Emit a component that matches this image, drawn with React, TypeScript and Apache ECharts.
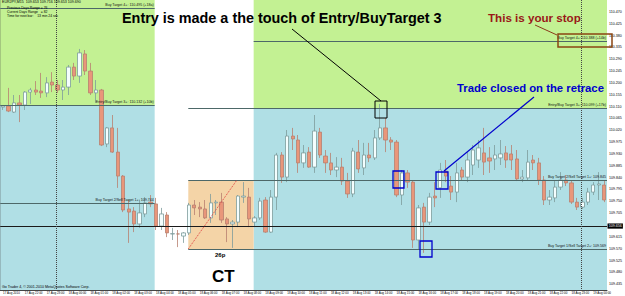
import React, { useEffect, useRef } from "react";
import * as echarts from "echarts";

const FONT = "Liberation Sans, Arial, sans-serif";

// hourly tick labels shown under the chart (one per 4 M15 bars)
const tickLabels = [
  "17 Aug 2010", "17 Aug 22:00", "17 Aug 23:00",
  "18 Aug 00:00", "18 Aug 01:00", "18 Aug 02:00", "18 Aug 03:00", "18 Aug 04:00", "18 Aug 05:00",
  "18 Aug 06:00", "18 Aug 07:00", "18 Aug 08:00", "18 Aug 09:00", "18 Aug 10:00", "18 Aug 11:00",
  "18 Aug 12:00", "18 Aug 13:00", "18 Aug 14:00", "18 Aug 15:00", "18 Aug 16:00", "18 Aug 17:00",
  "18 Aug 18:00", "18 Aug 19:00", "18 Aug 20:00", "18 Aug 21:00", "18 Aug 22:00", "18 Aug 23:00",
  "19 Aug 00:00",
];

// price scale labels (right axis)
const priceTicks = [
  110.47, 110.425, 110.38, 110.335, 110.29, 110.245, 110.2, 110.155, 110.11, 110.065, 110.02,
  109.975, 109.93, 109.885, 109.84, 109.795, 109.75, 109.705, 109.615, 109.57, 109.525, 109.48, 109.435,
];

// EURJPY M15 candles
const open = [
  110.108, 110.112, 110.089, 110.124, 110.116, 110.165, 110.173, 110.169, 110.162, 110.203,
  110.192, 110.173, 110.184, 110.26, 110.226, 110.31, 110.245, 110.162, 110.173, 109.968,
  110.029, 109.937, 109.846, 109.721, 109.713, 109.664, 109.702, 109.747, 109.74, 109.656,
  109.698, 109.626, 109.626, 109.618, 109.63, 109.736, 109.728, 109.721, 109.687, 109.744,
  109.747, 109.683, 109.664, 109.671, 109.766, 109.766, 109.671, 109.687, 109.755, 109.633,
  109.766, 109.926, 109.842, 109.998, 109.983, 109.896, 109.937, 109.88, 110.013, 109.922,
  109.896, 109.869, 109.88, 109.827, 109.778, 109.937, 109.877, 109.926, 109.915, 109.991,
  110.029, 109.983, 109.975, 109.774, 109.858, 109.823, 109.603, 109.728, 109.671, 109.77,
  109.801, 109.865, 109.808, 109.785, 109.869, 109.842, 109.888, 109.907, 109.934, 109.915,
  109.911, 109.915, 109.934, 109.93, 109.911, 109.835, 109.839, 109.907, 109.896, 109.831,
  109.755, 109.763, 109.804, 109.831, 109.82, 109.747, 109.728, 109.747, 109.785, 109.812,
  109.812,
];
const close = [
  110.112, 110.093, 110.124, 110.116, 110.165, 110.173, 110.165, 110.162, 110.2, 110.192,
  110.173, 110.184, 110.26, 110.226, 110.314, 110.245, 110.162, 110.173, 109.964, 110.029,
  109.937, 109.846, 109.717, 109.709, 109.664, 109.706, 109.744, 109.74, 109.656, 109.702,
  109.63, 109.627, 109.626, 109.63, 109.736, 109.725, 109.721, 109.687, 109.744, 109.747,
  109.679, 109.664, 109.671, 109.77, 109.77, 109.683, 109.687, 109.751, 109.633, 109.766,
  109.926, 109.842, 109.998, 109.987, 109.896, 109.934, 109.88, 110.017, 109.926, 109.896,
  109.869, 109.88, 109.827, 109.778, 109.941, 109.873, 109.926, 109.915, 109.991, 110.029,
  109.983, 109.975, 109.774, 109.858, 109.823, 109.603, 109.725, 109.671, 109.766, 109.763,
  109.869, 109.846, 109.785, 109.858, 109.842, 109.907, 109.945, 109.953, 109.899, 109.903,
  109.926, 109.93, 109.907, 109.907, 109.835, 109.842, 109.899, 109.896, 109.831, 109.755,
  109.766, 109.804, 109.831, 109.82, 109.747, 109.728, 109.747, 109.785, 109.812, 109.816,
  109.755,
];
const low = [
  110.097, 110.089, 110.086, 110.051, 110.097, 110.12, 110.154, 110.143, 110.146, 110.165,
  110.162, 110.135, 110.154, 110.211, 110.2, 110.23, 110.154, 110.124, 109.96, 109.956,
  109.934, 109.801, 109.709, 109.592, 109.633, 109.649, 109.69, 109.728, 109.641, 109.641,
  109.614, 109.603, 109.576, 109.592, 109.622, 109.698, 109.69, 109.683, 109.668, 109.698,
  109.668, 109.595, 109.573, 109.652, 109.744, 109.652, 109.652, 109.679, 109.63, 109.63,
  109.717, 109.82, 109.823, 109.945, 109.858, 109.877, 109.877, 109.858, 109.915, 109.858,
  109.85, 109.842, 109.812, 109.763, 109.766, 109.858, 109.85, 109.899, 109.907, 109.983,
  109.937, 109.945, 109.766, 109.736, 109.801, 109.573, 109.565, 109.554, 109.66, 109.728,
  109.763, 109.823, 109.755, 109.747, 109.831, 109.823, 109.85, 109.877, 109.85, 109.858,
  109.869, 109.888, 109.877, 109.869, 109.827, 109.823, 109.831, 109.869, 109.812, 109.736,
  109.736, 109.747, 109.793, 109.808, 109.74, 109.717, 109.721, 109.736, 109.774, 109.755,
  109.747,
];
const high = [
  110.116, 110.181, 110.154, 110.154, 110.169, 110.181, 110.207, 110.238, 110.222, 110.241,
  110.211, 110.211, 110.268, 110.276, 110.329, 110.325, 110.276, 110.211, 110.177, 110.032,
  110.078, 110.029, 109.85, 109.755, 109.728, 109.755, 109.766, 109.774, 109.763, 109.725,
  109.709, 109.649, 109.641, 109.633, 109.744, 109.755, 109.747, 109.755, 109.778, 109.755,
  109.782, 109.69, 109.679, 109.774, 109.823, 109.801, 109.694, 109.763, 109.766, 109.793,
  109.934, 109.937, 110.021, 110.029, 110.002, 109.964, 109.956, 110.078, 110.029, 109.945,
  109.934, 109.918, 109.915, 109.858, 109.953, 109.983, 109.972, 109.972, 110.021, 110.12,
  110.067, 109.994, 109.983, 109.869, 109.869, 109.831, 109.736, 109.744, 109.782, 109.823,
  109.896, 109.907, 109.846, 109.896, 109.88, 109.937, 109.964, 109.983, 110.029, 109.956,
  109.964, 109.983, 109.96, 109.964, 109.945, 109.869, 109.945, 109.926, 109.915, 109.846,
  109.793, 109.831, 109.861, 109.85, 109.831, 109.763, 109.763, 109.801, 109.823, 109.861,
  109.831,
];

// target levels (price) for each day
const prevDayLevels = [
  { price: 110.485, text: "Buy Target 4+: 110.495 (+18a)" },
  { price: 110.116, text: "Entry/Buy Target 3+: 110.132 (+10b)" },
  { price: 109.744, text: "Buy Target 2/Sell Target 1+: 109.744" },
];
const dayLevels = [
  { price: 110.359, text: "Buy Target 4+: 110.388 (+14b)", from: 46.36 },
  { price: 110.105, text: "Entry/Buy Target 3+: 110.099 (+17b)", from: 34.4 },
  { price: 109.831, text: "Buy Target 2/Sell Target 1+: 109.845", from: 34.4 },
  { price: 109.569, text: "Buy Target 1/Sell Target 2+: 109.569", from: 34.4 },
];
const bidPrice = 109.656;

// bar positions (in bars) of the day blocks
const leftDayEnd = 28.25;
const rightDayStart = 46.36;
const boxStart = 34.4;
const boxDiagEnd = 43.3;
const separators = [10.3, 106.3];

const Y_MIN = 109.413;
const Y_MAX = 110.515;
const N_BARS = 111;

const GREEN = "#C3F193";
const BLUE = "#B0DFE5";
const PEACH = "#F4D4A7";
const LEVEL = "#4D6868";

export default function App() {
  const ref = useRef<HTMLDivElement>(null);

  useEffect(() => {
    if (!ref.current) return;
    const chart = echarts.init(ref.current, undefined, { renderer: "svg" });

    const categories: string[] = [];
    for (let i = 0; i < open.length; i++) {
      const mins = 21 * 60 + i * 15;
      const day = 17 + Math.floor(mins / 1440);
      const m = mins % 1440;
      categories.push(
        `${day} Aug ${String(Math.floor(m / 60)).padStart(2, "0")}:${String(m % 60).padStart(2, "0")}`
      );
    }
    const candles = open.map((o, i) => [o, close[i], low[i], high[i]]);

    const tinyLabel = (text: string) => ({
      show: true,
      position: "insideEndTop",
      formatter: text,
      fontSize: 3.6,
      color: "#111",
      fontFamily: FONT,
      distance: [1, 0.6],
    });

    const lineData: any[] = [];
    prevDayLevels.forEach((l) =>
      lineData.push([
        { coord: [0, l.price], lineStyle: { color: LEVEL, width: 1, type: "solid" }, label: tinyLabel(l.text) },
        { coord: [leftDayEnd, l.price] },
      ])
    );
    dayLevels.forEach((l) =>
      lineData.push([
        { coord: [l.from, l.price], lineStyle: { color: LEVEL, width: 1, type: "solid" }, label: tinyLabel(l.text) },
        { coord: [N_BARS, l.price] },
      ])
    );
    lineData.push([
      {
        coord: [0, bidPrice],
        lineStyle: { color: "#1a1a1a", width: 1, type: "solid" },
        label: {
          show: true,
          position: "end",
          formatter: bidPrice.toFixed(3),
          fontSize: 3.6,
          color: "#fff",
          backgroundColor: "#000",
          padding: [0.6, 1.2],
          distance: 0.5,
          fontFamily: FONT,
        },
      },
      { coord: [N_BARS, bidPrice] },
    ]);
    separators.forEach((s) =>
      lineData.push([
        { coord: [s, Y_MAX], lineStyle: { color: "#444", width: 1, type: "dotted" }, label: { show: false } },
        { coord: [s, Y_MIN] },
      ])
    );
    lineData.push([
      { coord: [boxStart, dayLevels[3].price], lineStyle: { color: "#E04040", width: 1, type: "dotted" }, label: { show: false } },
      { coord: [boxDiagEnd, dayLevels[2].price] },
    ]);

    const areaData = [
      [{ coord: [0, prevDayLevels[1].price], itemStyle: { color: GREEN } }, { coord: [leftDayEnd, Y_MAX] }],
      [{ coord: [0, Y_MIN], itemStyle: { color: BLUE } }, { coord: [leftDayEnd, prevDayLevels[1].price] }],
      [{ coord: [rightDayStart, dayLevels[1].price], itemStyle: { color: GREEN } }, { coord: [N_BARS, Y_MAX] }],
      [{ coord: [rightDayStart, Y_MIN], itemStyle: { color: BLUE } }, { coord: [N_BARS, dayLevels[1].price] }],
      [{ coord: [boxStart, dayLevels[3].price], itemStyle: { color: PEACH } }, { coord: [rightDayStart, dayLevels[2].price] }],
    ];

    const txt = (x: number, y: number, text: string, size: number, fill: string, bold = false, va = "top") => ({
      type: "text",
      x,
      y,
      z: 100,
      silent: true,
      style: { text, fontSize: size, fill, fontWeight: bold ? "bold" : "normal", fontFamily: FONT, verticalAlign: va },
    });
    const seg = (x1: number, y1: number, x2: number, y2: number, stroke: string, w = 1) => ({
      type: "line",
      z: 100,
      silent: true,
      shape: { x1, y1, x2, y2 },
      style: { stroke, lineWidth: w },
    });
    const box = (x: number, y: number, w: number, h: number, stroke: string, lw = 1.2) => ({
      type: "rect",
      z: 100,
      silent: true,
      shape: { x, y, width: w, height: h },
      style: { fill: "none", stroke, lineWidth: lw },
    });

    chart.setOption({
      animation: false,
      backgroundColor: "#ffffff",
      textStyle: { fontFamily: FONT },
      grid: { left: -1, right: 13, top: 0, height: 290 },
      xAxis: [
        {
          type: "category",
          data: categories,
          boundaryGap: true,
          axisLine: { lineStyle: { color: "#444", width: 1 } },
          axisTick: { interval: 3, length: 2, alignWithLabel: true, lineStyle: { color: "#444" } },
          axisLabel: {
            interval: 3,
            fontSize: 3,
            color: "#000",
            align: "left",
            margin: 1.5,
            fontFamily: FONT,
            formatter: (_v: string, i: number) => tickLabels[Math.floor(i / 4)] ?? "",
          },
          splitLine: { show: false },
        },
        { type: "value", min: 0, max: N_BARS, show: false },
      ],
      yAxis: {
        type: "value",
        position: "right",
        min: Y_MIN,
        max: Y_MAX,
        axisLine: { show: true, lineStyle: { color: "#444" } },
        axisTick: { show: true, length: 2, customValues: priceTicks, lineStyle: { color: "#444" } },
        axisLabel: {
          customValues: priceTicks,
          fontSize: 3.6,
          margin: 2,
          color: "#000",
          fontFamily: FONT,
          formatter: (v: number) => v.toFixed(3),
        },
        splitLine: { show: false },
      },
      series: [
        {
          type: "line",
          xAxisIndex: 1,
          yAxisIndex: 0,
          data: [],
          z: 1,
          silent: true,
          markArea: { silent: true, data: areaData },
        },
        {
          type: "line",
          xAxisIndex: 1,
          yAxisIndex: 0,
          data: [],
          z: 2,
          silent: true,
          markLine: { silent: true, symbol: ["none", "none"], animation: false, data: lineData },
        },
        {
          type: "candlestick",
          xAxisIndex: 0,
          yAxisIndex: 0,
          data: candles,
          z: 3,
          barWidth: 3.8,
          itemStyle: {
            color: "#F4FEFE",
            color0: "#E9967A",
            borderColor: "#7E9C9C",
            borderColor0: "#B88070",
            borderWidth: 0.8,
          },
        },
      ],
      graphic: [
        txt(2, 0.4, "EURJPY,M15  109.653 109.716 109.653 109.690", 3.6, "#000"),
        txt(7, 6, "Previous Days Range = 76", 3.4, "#000"),
        txt(7, 10, "Current Days Range   = 82", 3.4, "#000"),
        txt(7, 14, "Time for next bar:    13 min 24 sec", 3.4, "#000"),
        txt(2, 284.6, "Go Trader 4, © 2001-2010 MetaQuotes Software Corp.", 3.6, "#000"),
        txt(122, 17.5, "Entry is made a the touch of Entry/BuyTarget 3", 14.4, "#000", true, "middle"),
        txt(488, 17, "This is your stop", 11.6, "#991818", true, "middle"),
        txt(457, 88, "Trade closed on the retrace", 11.3, "#0000CD", true, "middle"),
        txt(215, 255, "26p", 6, "#000", true, "middle"),
        txt(212, 276, "CT", 17, "#000", true, "middle"),
        seg(292, 29, 381, 101, "#000", 1),
        box(375, 101, 12, 17, "#000", 1),
        seg(535, 25, 557, 35, "#8B3A1A", 1),
        box(558, 34, 54, 13, "#8B4513", 1.5),
        seg(444, 171, 534, 97, "#0000CD", 1.2),
        box(393, 171, 11, 17, "#0000CD", 1.3),
        box(436, 172, 12, 17, "#0000CD", 1.3),
        box(420, 241, 12, 16, "#0000CD", 1.3),
      ],
    });

    return () => chart.dispose();
  }, []);

  return (
    <div
      ref={ref}
      style={{ position: "fixed", left: 0, top: 0, width: 625, height: 296, background: "#fff" }}
    />
  );
}
